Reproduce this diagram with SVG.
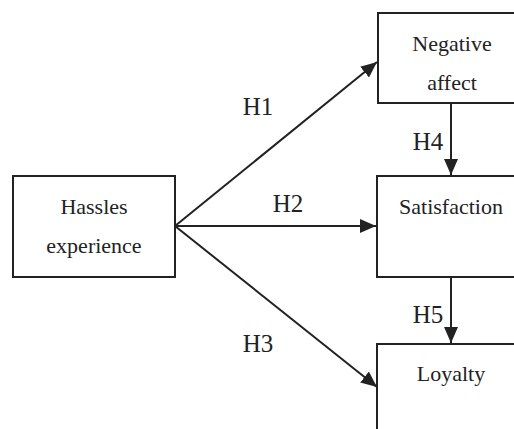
<svg xmlns="http://www.w3.org/2000/svg" width="514" height="429" viewBox="0 0 514 429">
<defs>
<style>
.box{fill:#fff;stroke:#222;stroke-width:2}
.t{font-size:22px;fill:#222;text-anchor:middle}
.lbl{font-size:25px;fill:#222;text-anchor:middle}
.c{stroke:#222;stroke-width:2;fill:none}
</style>
<marker id="ah" markerUnits="userSpaceOnUse" markerWidth="16" markerHeight="14" viewBox="0 0 16 14" refX="16" refY="7" orient="auto">
<path d="M0,0 L16,7 L0,14 Z" fill="#222"/>
</marker>
</defs>
<rect width="514" height="429" fill="#fff"/>
<g font-family="Liberation Serif, Times New Roman, DejaVu Serif, serif">
<g id="hassles">
<rect class="box" x="13" y="176" width="162" height="101"/>
<text class="t" x="94" y="214">Hassles</text>
<text class="t" x="94" y="253">experience</text>
</g>
<g id="negative-affect">
<rect class="box" x="378" y="13" width="150" height="90"/>
<text class="t" x="452" y="51">Negative</text>
<text class="t" x="452" y="90">affect</text>
</g>
<g id="satisfaction">
<rect class="box" x="377" y="176" width="150" height="101"/>
<text class="t" x="451" y="214">Satisfaction</text>
</g>
<g id="loyalty">
<rect class="box" x="377" y="344" width="150" height="101"/>
<text class="t" x="451" y="381">Loyalty</text>
</g>
<g id="connectors">
<line class="c" x1="175" y1="226" x2="377" y2="62" marker-end="url(#ah)"/>
<line class="c" x1="175" y1="226" x2="376" y2="226" marker-end="url(#ah)"/>
<line class="c" x1="175" y1="226" x2="377" y2="387" marker-end="url(#ah)"/>
<line class="c" x1="451" y1="103" x2="451" y2="175" marker-end="url(#ah)"/>
<line class="c" x1="451" y1="277" x2="451" y2="343" marker-end="url(#ah)"/>
<text class="lbl" x="258" y="115">H1</text>
<text class="lbl" x="288" y="212">H2</text>
<text class="lbl" x="258" y="352">H3</text>
<text class="lbl" x="428" y="150">H4</text>
<text class="lbl" x="428" y="323">H5</text>
</g>
</g>
</svg>
